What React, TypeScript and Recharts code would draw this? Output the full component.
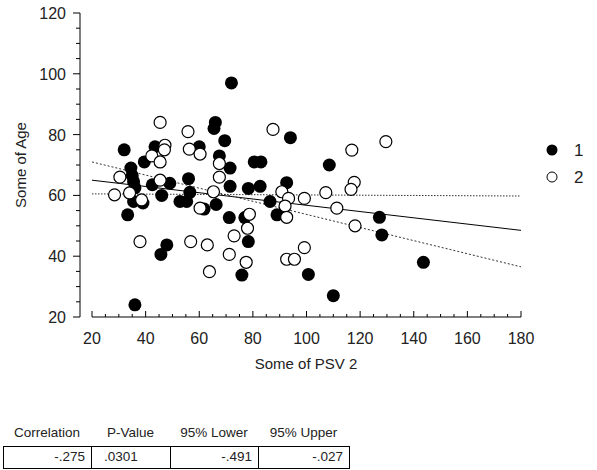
import { ScatterChart, Scatter, XAxis, YAxis, ReferenceLine } from "recharts";

// group 1 (filled dots)
const group1X = [72, 32, 43.5, 66, 65.5, 69.5, 60, 67.5, 71.5, 80.5, 83, 94, 108.5, 39.5, 34.5, 35, 35.5, 36, 42.5, 49, 56, 46, 56.5, 39, 35.5, 52.8, 55.3, 61.8, 66.3, 71.5, 78.3, 82.7, 71.2, 77, 78.3, 75.9, 86.4, 89, 92.6, 33.3, 47.9, 45.7, 36, 100.7, 110, 127.2, 128.1, 143.6];
const group1Y = [97, 75, 76, 84, 82, 78, 76, 73, 69, 71, 71, 79, 70, 71, 69, 66.5, 64.5, 62.5, 63.5, 64, 65.5, 60, 61, 57.5, 58, 58, 58, 55.5, 57, 63, 62.3, 63, 52.7, 52.7, 44.8, 33.8, 58, 53.6, 64.2, 53.6, 43.7, 40.6, 24, 34, 27, 52.8, 47, 38];

// group 2 (open dots)
const group2X = [45.4, 47.2, 47, 42.3, 45.4, 30.4, 45.4, 28.4, 34, 38.5, 37.9, 55.8, 87.5, 56.3, 60.3, 67.5, 67.5, 65.3, 60.3, 78.7, 78, 73, 56.8, 63, 71.2, 77.5, 63.8, 116.9, 129.6, 117.8, 116.6, 90.8, 107.2, 93.3, 99.2, 92, 92.6, 111.3, 118.1, 99.2, 92.6, 95.5];
const group2Y = [84, 76.5, 75, 73, 71, 66, 65, 60.2, 60.8, 58.5, 44.8, 81, 81.7, 75.2, 73.6, 70.5, 66, 61.2, 55.8, 53.8, 49.2, 46.7, 44.8, 43.7, 40.6, 38, 34.9, 74.9, 77.7, 64.3, 62, 61.2, 60.9, 59, 59, 56.5, 52.8, 55.8, 50, 42.8, 39, 39];

// fit line and 95% band lines (ends at x = 20 and x = 180)
const fitX = [20, 180];
const fitY = [65, 48.5];
const lowerSlopeY = [60.5, 59.8];
const upperSlopeY = [71, 36.5];

const xTicks = [20, 25, 30, 35, 40, 45, 50, 55, 60, 65, 70, 75, 80, 85, 90, 95, 100, 105, 110, 115, 120, 125, 130, 135, 140, 145, 150, 155, 160, 165, 170, 175, 180];
const yTicks = [20, 25, 30, 35, 40, 45, 50, 55, 60, 65, 70, 75, 80, 85, 90, 95, 100, 105, 110, 115, 120];

const statLabels = ["Correlation", "P-Value", "95% Lower", "95% Upper"];
const statValues = ["-.275", ".0301", "-.491", "-.027"];

const font = "'Liberation Sans', Arial, sans-serif";

const group1 = group1X.map((x, i) => ({ x, y: group1Y[i] }));
const group2 = group2X.map((x, i) => ({ x, y: group2Y[i] }));

const FilledDot = (props: any) => <circle cx={props.cx} cy={props.cy} r={6.5} fill="#000" />;
const OpenDot = (props: any) => (
  <circle cx={props.cx} cy={props.cy} r={6} fill="#fff" stroke="#000" strokeWidth={1.2} />
);

const XTick = ({ x, y, payload }: any) => {
  const major = payload.value % 20 === 0;
  return (
    <g>
      <line x1={x} x2={x} y1={y} y2={y - (major ? 6 : 3)} stroke="#000" />
      {major && (
        <text x={x} y={y + 27} textAnchor="middle" fontSize={16} fontFamily={font} fill="#222">
          {payload.value}
        </text>
      )}
    </g>
  );
};

const YTick = ({ x, y, payload }: any) => {
  const major = payload.value % 20 === 0;
  return (
    <g>
      <line x1={x} x2={x - (major ? 7 : 4)} y1={y} y2={y} stroke="#000" />
      {major && (
        <text x={x - 14} y={y + 6} textAnchor="end" fontSize={16} fontFamily={font} fill="#222">
          {payload.value}
        </text>
      )}
    </g>
  );
};

const cell: React.CSSProperties = {
  boxSizing: "border-box",
  height: 21,
  lineHeight: "19px",
  borderRight: "1px solid #000",
};

export default function App() {
  return (
    <div style={{ position: "absolute", left: 0, top: 0, width: 597, height: 470, background: "#fff", fontFamily: font }}>
      <ScatterChart width={597} height={380} margin={{ top: 13, right: 76, bottom: 13, left: 0 }}>
        <XAxis
          type="number"
          dataKey="x"
          domain={[15.52, 180]}
          ticks={xTicks}
          interval={0}
          axisLine={false}
          tickLine={false}
          tickSize={0}
          tickMargin={0}
          height={50}
          tick={<XTick />}
        />
        <YAxis
          type="number"
          dataKey="y"
          domain={[20, 120]}
          ticks={yTicks}
          interval={0}
          axisLine={{ stroke: "#000" }}
          tickLine={false}
          tickSize={0}
          tickMargin={0}
          width={80}
          tick={<YTick />}
        />
        <Scatter data={group1} shape={<FilledDot />} isAnimationActive={false} />
        <Scatter data={group2} shape={<OpenDot />} isAnimationActive={false} />
        <ReferenceLine
          segment={[{ x: 20, y: 20 }, { x: 180, y: 20 }]}
          stroke="#000"
          ifOverflow="visible"
        />
        <ReferenceLine
          segment={[{ x: fitX[0], y: fitY[0] }, { x: fitX[1], y: fitY[1] }]}
          stroke="#000"
          strokeWidth={1}
        />
        <ReferenceLine
          segment={[{ x: fitX[0], y: lowerSlopeY[0] }, { x: fitX[1], y: lowerSlopeY[1] }]}
          stroke="#333"
          strokeDasharray="1.5 1.5"
        />
        <ReferenceLine
          segment={[{ x: fitX[0], y: upperSlopeY[0] }, { x: fitX[1], y: upperSlopeY[1] }]}
          stroke="#333"
          strokeDasharray="2 2"
        />
      </ScatterChart>

      {/* axis titles */}
      <div style={{ position: "absolute", left: 206, width: 200, top: 355, textAlign: "center", fontSize: 15, color: "#222" }}>
        Some of PSV 2
      </div>
      <div
        style={{
          position: "absolute",
          left: 20,
          top: 165,
          transform: "translate(-50%, -50%) rotate(-90deg)",
          whiteSpace: "nowrap",
          fontSize: 15,
          color: "#222",
        }}
      >
        Some of Age
      </div>

      {/* legend */}
      <svg style={{ position: "absolute", left: 540, top: 138 }} width={50} height={52}>
        <circle cx={12} cy={12} r={5.5} fill="#000" />
        <text x={34} y={18} fontSize={17} fontFamily={font} fill="#222">1</text>
        <circle cx={12} cy={39} r={5} fill="#fff" stroke="#000" />
        <text x={34} y={45} fontSize={17} fontFamily={font} fill="#222">2</text>
      </svg>

      {/* stats table */}
      <div style={{ position: "absolute", left: 3, top: 425, display: "flex", fontSize: 13.5, color: "#222" }}>
        {statLabels.map((s, i) => (
          <div key={s} style={{ width: [88, 79, 88, 91][i], textAlign: "center" }}>{s}</div>
        ))}
      </div>
      <div
        style={{
          position: "absolute",
          left: 3,
          top: 446,
          display: "flex",
          border: "1px solid #000",
          borderRight: "none",
          fontSize: 13.5,
          color: "#222",
        }}
      >
        {statValues.map((v, i) => (
          <div
            key={i}
            style={{
              ...cell,
              width: [88, 79, 88, 91][i],
              textAlign: i === 1 ? "left" : "right",
              paddingLeft: i === 1 ? 12 : 0,
              paddingRight: i === 1 ? 0 : 6,
            }}
          >
            {v}
          </div>
        ))}
      </div>
    </div>
  );
}
